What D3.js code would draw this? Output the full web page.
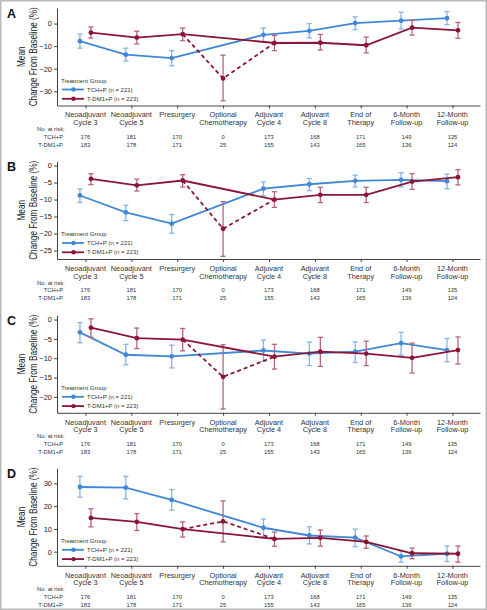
<!DOCTYPE html>
<html><head><meta charset="utf-8">
<script src="https://cdn.jsdelivr.net/npm/d3@7"></script>
<style>
body{margin:0;background:#fff}
svg{display:block}
text{font-family:"Liberation Sans",Arial,Helvetica,sans-serif;fill:#222}
</style>
</head><body>
<svg id="chart" width="487" height="610"></svg>
<script>
// ---------- data ----------
const categories = [["Neoadjuvant","Cycle 3"],["Neoadjuvant","Cycle 5"],["Presurgery"],["Optional","Chemotherapy"],["Adjuvant","Cycle 4"],["Adjuvant","Cycle 8"],["End of","Therapy"],["6-Month","Follow-up"],["12-Month","Follow-up"]];
const seriesNames = ["TCH+P (n = 221)","T-DM1+P (n = 223)"];
const riskLabels = ["TCH+P","T-DM1+P"];
const riskTCH  = [176,181,170,0,173,168,171,149,135];
const riskTDM1 = [183,178,171,25,155,143,165,136,124];
const panelLetters = ["A","B","C","D"];
const yDomains = [[-36.3,6.9],[-27.5,1.2],[-24.1,1.1],[-6.2,36.6]];
const yTicks = [[-30,-20,-10,0],[-25,-20,-15,-10,-5,0],[-20,-15,-10,-5,0],[0,10,20,30]];
// each entry: [mean, lower CI, upper CI]; null = no observation
const tchA  = [[-7.8,-10.9,-4.7],[-13.8,-16.6,-10.9],[-15.3,-18.7,-12.0],null,[-5.0,-8.0,-2.0],[-3.2,-6.3,0.0],[0.2,-2.7,3.0],[1.3,-2.4,5.0],[2.4,-0.5,5.3]];
const tdmA  = [[-4.0,-6.4,-1.5],[-6.2,-9.0,-3.4],[-4.7,-7.6,-2.0],[-24.3,-34.2,-14.0],[-8.6,-12.0,-5.3],[-8.5,-11.7,-4.8],[-9.6,-13.0,-6.0],[-1.8,-5.1,1.4],[-3.0,-6.5,0.5]];
const tchB  = [[-8.8,-10.8,-6.9],[-13.8,-16.2,-11.7],[-17.1,-19.9,-14.4],null,[-6.8,-8.9,-4.8],[-5.5,-7.4,-3.8],[-4.5,-6.3,-2.8],[-4.2,-6.3,-2.1],[-4.6,-6.8,-2.5]];
const tdmB  = [[-3.9,-5.6,-2.4],[-5.8,-7.5,-4.0],[-4.4,-6.3,-2.7],[-18.6,-26.7,-10.6],[-10.0,-12.3,-7.7],[-8.6,-10.9,-6.4],[-8.6,-10.9,-6.4],[-4.7,-7.0,-2.4],[-3.4,-5.7,-1.2]];
const tchC  = [[-3.3,-6.0,-0.8],[-9.1,-11.7,-6.4],[-9.5,-12.5,-6.6],null,[-8.0,-10.8,-5.3],[-8.8,-11.9,-5.8],[-8.3,-11.1,-5.8],[-6.1,-9.2,-3.3],[-7.9,-10.9,-4.9]];
const tdmC  = [[-2.1,-4.6,0.2],[-4.8,-7.5,-2.2],[-5.2,-8.1,-2.3],[-14.8,-23.1,-6.5],[-9.6,-12.8,-6.4],[-8.3,-12.1,-4.6],[-8.8,-11.9,-5.6],[-9.9,-13.8,-6.1],[-7.9,-11.5,-4.5]];
const tchD  = [[28.4,23.9,33.1],[28.1,23.2,33.1],[22.7,18.2,27.3],null,[10.5,6.5,14.3],[7.1,3.4,10.9],[6.2,2.2,9.9],[-2.1,-4.6,0.4],[-0.9,-4.3,2.5]];
const tdmD  = [[14.8,10.9,18.8],[13.1,9.3,16.7],[9.9,6.4,13.1],[13.3,4.3,22.3],[5.6,2.4,8.6],[6.1,2.4,9.5],[4.3,1.5,6.9],[-0.7,-3.1,1.6],[-0.9,-4.6,2.5]];
const panelTCH = [tchA,tchB,tchC,tchD];
const panelTDM = [tdmA,tdmB,tdmC,tdmD];

// ---------- style ----------
const BLUE = "#3f88d6", RED = "#8a1538";
const BLUE_ERR = "#88b4e6", RED_ERR = "#b5667f";
const svg = d3.select("#chart");

svg.append("rect").attr("x",0.75).attr("y",0.75).attr("width",485.5).attr("height",608.5)
  .attr("fill","none").attr("stroke","#b9b9b9").attr("stroke-width",1.5);

const x = d3.scaleLinear().domain([-0.62, 8.6]).range([57, 480]);
const OFF = 0.12;
const panelTop = [8, 161.5, 315.3, 468.3];
const panelH = 97.5;

panelLetters.forEach((letter, p) => {
  const top = panelTop[p], bottom = top + panelH;
  const y = d3.scaleLinear().domain(yDomains[p]).range([bottom, top]);
  const g = svg.append("g");

  // panel letter
  g.append("text").attr("x",7).attr("y",top+9.5).attr("font-size",12.5).attr("font-weight","bold")
    .style("fill","#111").text(letter);

  // y axis
  const ya = g.append("g").attr("transform",`translate(${x.range()[0]},0)`)
    .call(d3.axisLeft(y).tickValues(yTicks[p]).tickSize(3).tickSizeOuter(0).tickPadding(2).tickFormat(d3.format("d")));
  ya.select(".domain").attr("stroke","#444");
  ya.selectAll(".tick line").attr("stroke","#444");
  ya.selectAll(".tick text").attr("font-size",7.5).style("fill","#222").attr("font-family","Liberation Sans, Arial, sans-serif");

  // x axis
  const xa = g.append("g").attr("transform",`translate(0,${bottom})`)
    .call(d3.axisBottom(x).tickValues(d3.range(categories.length)).tickSize(3).tickSizeOuter(0).tickFormat(""));
  xa.select(".domain").attr("stroke","#444");
  xa.selectAll(".tick line").attr("stroke","#444");

  // category labels
  categories.forEach((lines, i) => {
    lines.forEach((t, k) => {
      g.append("text").attr("x",x(i)).attr("y",bottom+11.8+k*7.7).attr("text-anchor","middle")
        .attr("font-size",7.3).style("fill","#333").text(t);
    });
  });

  // risk table
  g.append("text").attr("x",37).attr("y",bottom+25.5).attr("font-size",5.8).style("fill","#333").text("No. at risk:");
  [riskTCH, riskTDM1].forEach((row, r) => {
    const yy = bottom + 33 + r*8;
    g.append("text").attr("x",63).attr("y",yy).attr("text-anchor","end").attr("font-size",5.8).style("fill","#333").text(riskLabels[r]);
    row.forEach((v, i) => {
      g.append("text").attr("x",x(i)).attr("y",yy).attr("text-anchor","middle").attr("font-size",5.8).style("fill","#333").text(v);
    });
  });

  // y label (condensed look via horizontal scale before rotation)
  const cy = (top + bottom) / 2;
  g.append("text").attr("transform",`translate(25,${cy}) rotate(-90) scale(0.8,1)`).attr("text-anchor","middle")
    .attr("font-size",10.3).style("fill","#222").text("Mean");
  g.append("text").attr("transform",`translate(36.8,${cy}) rotate(-90) scale(0.8,1)`).attr("text-anchor","middle")
    .attr("font-size",10.3).style("fill","#222").text("Change From Baseline (%)");

  // series
  const drawSeries = (data, color, errColor, off, dashed) => {
    const px = i => x(i + (i === 3 ? 0 : off));
    const pts = data.map((d, i) => d ? {i, m:d[0], lo:d[1], hi:d[2]} : null).filter(d => d);
    const sg = g.append("g");
    pts.forEach(d => {
      const cx = px(d.i);
      sg.append("line").attr("x1",cx).attr("x2",cx).attr("y1",y(d.lo)).attr("y2",y(d.hi)).attr("stroke",errColor).attr("stroke-width",1.3);
      [d.lo, d.hi].forEach(v => sg.append("line").attr("x1",cx-2.6).attr("x2",cx+2.6).attr("y1",y(v)).attr("y2",y(v)).attr("stroke",errColor).attr("stroke-width",1.3));
    });
    const line = d3.line().x(d => px(d.i)).y(d => y(d.m));
    sg.append("path").datum(pts.filter(d => d.i !== 3)).attr("d",line).attr("fill","none").attr("stroke",color).attr("stroke-width",1.8);
    if (dashed) {
      sg.append("path").datum(pts.filter(d => d.i >= 2 && d.i <= 4)).attr("d",line).attr("fill","none")
        .attr("stroke",color).attr("stroke-width",1.8).attr("stroke-dasharray","4,3");
    }
    pts.forEach(d => sg.append("circle").attr("cx",px(d.i)).attr("cy",y(d.m)).attr("r",2.4).attr("fill",color));
  };
  drawSeries(panelTCH[p], BLUE, BLUE_ERR, -OFF, false);
  drawSeries(panelTDM[p], RED, RED_ERR, OFF, true);

  // legend
  const lx = 62;
  g.append("text").attr("x",lx-1).attr("y",bottom-23).attr("font-size",6).style("fill","#333").text("Treatment Group");
  [[BLUE, seriesNames[0]],[RED, seriesNames[1]]].forEach(([c, t], k) => {
    const ly = bottom - 16 + k*9.3;
    g.append("line").attr("x1",lx).attr("x2",lx+22).attr("y1",ly).attr("y2",ly).attr("stroke",c).attr("stroke-width",1.8);
    g.append("circle").attr("cx",lx+11.5).attr("cy",ly).attr("r",2.2).attr("fill",c);
    g.append("text").attr("x",lx+25).attr("y",ly+2.1).attr("font-size",6).style("fill","#333").text(t);
  });
});
</script>
</body></html>
